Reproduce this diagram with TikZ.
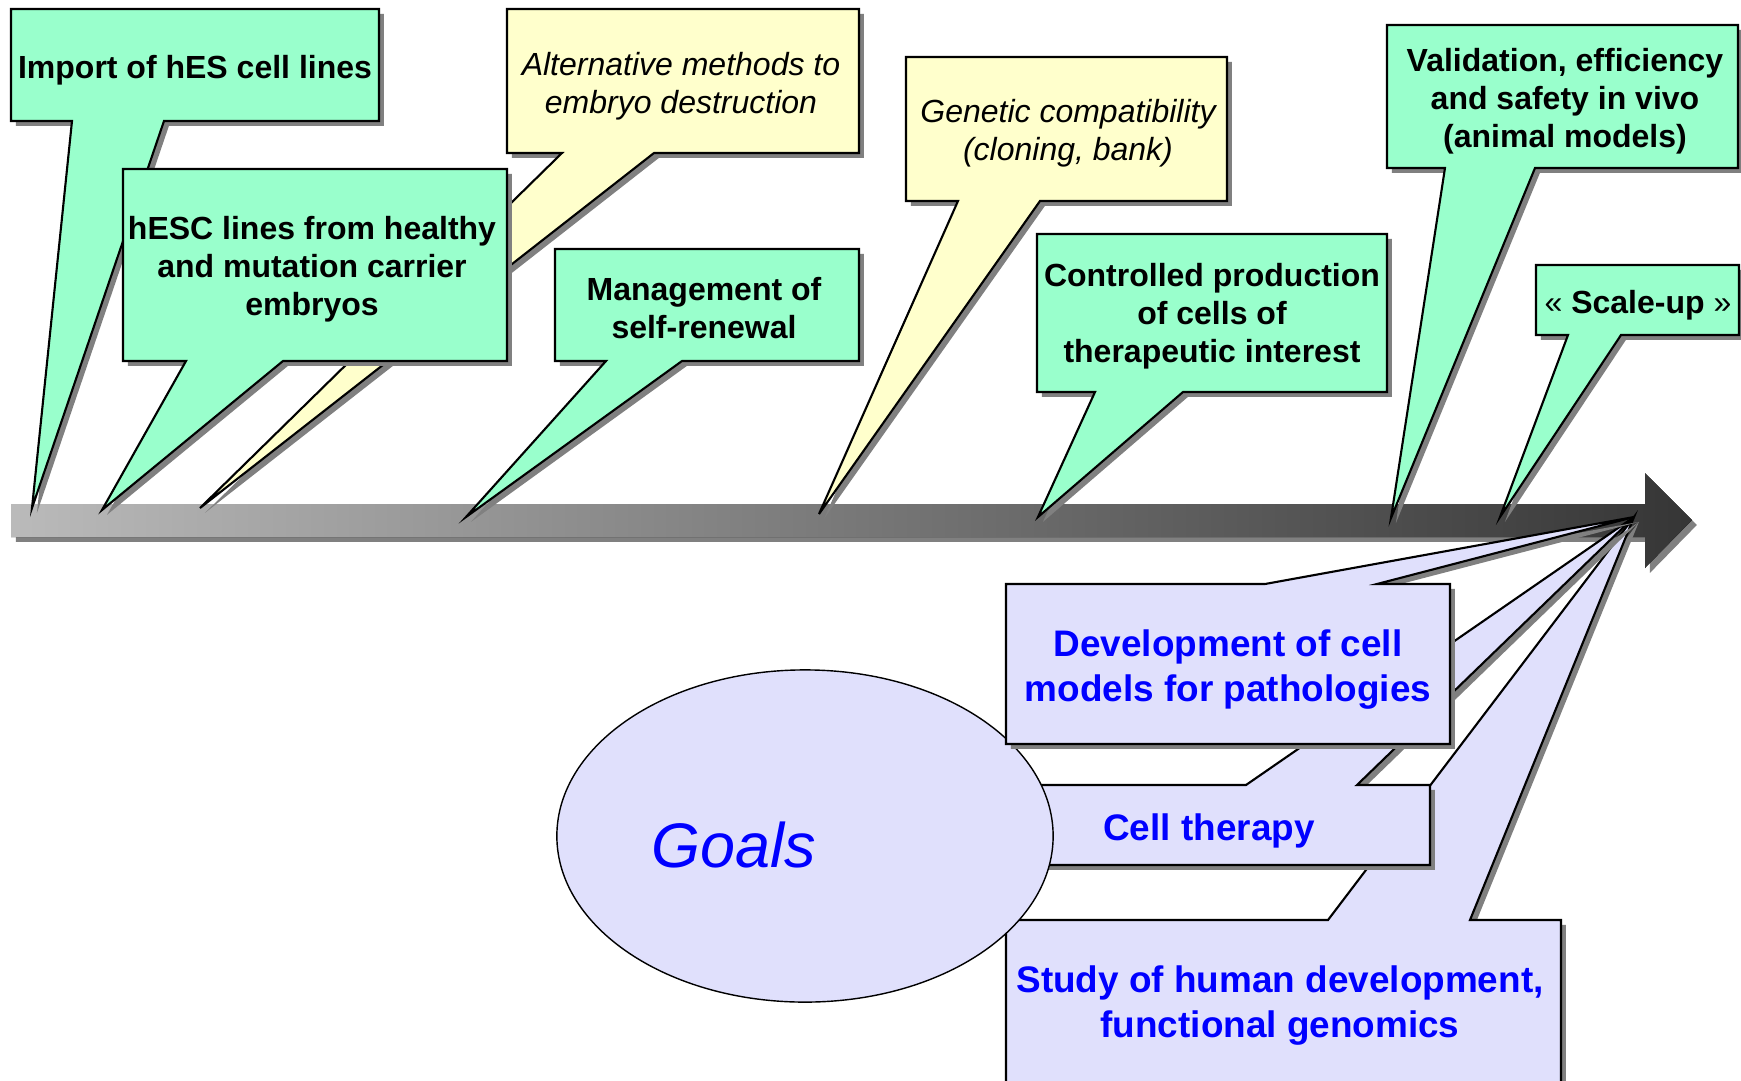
\documentclass[tikz,border=0pt]{standalone}
\usepackage{fontspec}
\setmainfont{Liberation Sans}
\usetikzlibrary{shapes.geometric,shadows}
\definecolor{calgreen}{RGB}{153,255,204}
\definecolor{calyellow}{RGB}{255,255,204}
\definecolor{callav}{RGB}{224,224,252}
\begin{document}
\begin{tikzpicture}[x=.01cm, y=-.01cm, line width=.6pt,
    callout/.style={draw=black, line join=miter,
        drop shadow={shadow xshift=1.4pt, shadow yshift=-1.4pt, fill=black!50, opacity=1}},
    bolder/.style={font=\fontsize{9.1}{10.8}\selectfont\bfseries, align=center},
    slanted/.style={font=\fontsize{9.1}{10.8}\selectfont\itshape, align=center},
    goal/.style={font=\fontsize{10.5}{12.8}\selectfont\bfseries, text=blue, align=center}]
\useasboundingbox (0,0) rectangle (1741,1081);
%axis
\fill[left color=black!27, right color=black!79,
    drop shadow={shadow xshift=1.4pt, shadow yshift=-1.4pt, fill=black!50, opacity=1}]
    (11,504) -- (1645,504) -- (1645,473) -- (1692,520) -- (1645,568) -- (1645,537) -- (11,537) -- cycle;
%callouts above the axis
\foreach \xa/\ya/\xb/\yb/\bl/\br/\tx/\ty/\col in {
    11/9/379/121/72/164/32/508/calgreen,
    507/9/859/153/562/654/200/508/calyellow,
    123/169/507/361/186/283/102/510/calgreen,
    555/249/859/361/606/682/466/517/calgreen,
    906/57/1227/201/958/1040/819/514/calyellow,
    1037/234/1387/392/1095/1183/1038/517/calgreen,
    1387/25/1738/168/1445/1535/1391/518/calgreen,
    1536/265/1739/335/1568/1621/1500/517/calgreen}
\draw[callout, fill=\col] (\xa,\ya) -- (\xb,\ya) -- (\xb,\yb) -- (\br,\yb)
    -- (\tx,\ty) -- (\bl,\yb) -- (\xa,\yb) -- cycle;
%goals below the axis
\coordinate (aim) at (1634,517);
\foreach \xa/\ya/\xb/\yb/\bl/\br in {1006/920/1561/1084/1328/1470,
    1006/785/1430/865/1246/1357}
\draw[callout, fill=callav] (\xa,\ya) -- (\bl,\ya) -- (aim) -- (\br,\ya)
    -- (\xb,\ya) -- (\xb,\yb) -- (\xa,\yb) -- cycle;
\node[ellipse, draw, line width=.4pt, fill=callav, inner sep=0pt,
    minimum width=4.96cm, minimum height=3.32cm] (goals) at (805,836) {};
\draw[callout, fill=callav] (1006,584) -- (1265,584) -- (aim) -- (1377,584)
    -- (1450,584) -- (1450,744) -- (1006,744) -- cycle;
%labels
\node[bolder] (imp) at (195,70) {Import of hES cell lines};
\node[bolder] (hesc) at (312,269) {hESC lines from healthy\\and mutation carrier\\embryos};
\node[slanted] (alt) at (681,86) {Alternative methods to\\embryo destruction};
\node[bolder] (mgmt) at (704,308) {Management of\\self-renewal};
\node[slanted] (gen) at (1068,133) {Genetic compatibility\\(cloning, bank)};
\node[bolder] (ctrl) at (1212,316) {Controlled production\\of cells of\\therapeutic interest};
\node[bolder] (val) at (1565,101) {Validation, efficiency\\and safety in vivo\\(animal models)};
\node[bolder] (scaleup) at (1638,305) {{\mdseries«} Scale-up {\mdseries»}};
\node[goal] (dev) at (1228,670) {Development of cell\\models for pathologies};
\node[goal] (cellth) at (1209,831) {Cell therapy};
\node[goal] (study) at (1280,1006) {Study of human development,\\functional genomics};
\node[font=\fontsize{17.9}{20}\selectfont\itshape, text=blue] (goalslabel) at (734,845) {Goals};
\end{tikzpicture}
\end{document}
